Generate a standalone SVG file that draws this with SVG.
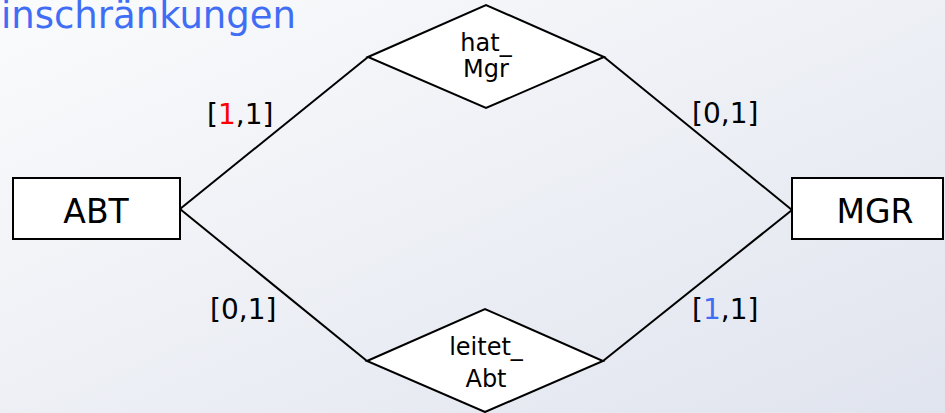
<svg xmlns="http://www.w3.org/2000/svg" width="945" height="413" viewBox="0 0 945 413">
<defs>
<linearGradient id="bg" x1="0" y1="0" x2="1" y2="1">
<stop offset="0" stop-color="#fafbfc"/>
<stop offset="1" stop-color="#e0e4ee"/>
</linearGradient>
</defs>
<style>
.shape{fill:#ffffff;stroke:#000000;stroke-width:2}
.conn{fill:none;stroke:#000000;stroke-width:2}
text{font-family:"DejaVu Sans",Verdana,sans-serif;fill:#000000}
.ent{font-size:33px;text-anchor:middle}
.rel{font-size:24px;text-anchor:middle}
.card{font-size:28px}
.title{font-size:37px;fill:#3f6ef5}
</style>
<rect width="945" height="413" fill="url(#bg)"/>
<text class="title" x="1" y="28">inschränkungen</text>
<g id="connectors">
<line class="conn" x1="180" y1="209" x2="368" y2="57"/>
<line class="conn" x1="604" y1="57" x2="792" y2="210"/>
<line class="conn" x1="180" y1="209" x2="367" y2="361"/>
<line class="conn" x1="603" y1="361" x2="792" y2="210"/>
</g>
<g id="ABT">
<rect class="shape" x="13" y="178" width="167" height="61"/>
<text class="ent" x="96" y="223">ABT</text>
</g>
<g id="MGR">
<rect class="shape" x="792" y="178" width="151" height="61"/>
<text class="ent" x="875" y="223">MGR</text>
</g>
<g id="hat_Mgr">
<polygon class="shape" points="368,57 486,5 604,57 486,108"/>
<text class="rel" x="486" y="51">hat_</text>
<text class="rel" x="486" y="77">Mgr</text>
</g>
<g id="leitet_Abt">
<polygon class="shape" points="367,361 485,309 603,361 485,412"/>
<text class="rel" x="486" y="355">leitet_</text>
<text class="rel" x="486" y="387">Abt</text>
</g>
<g id="labels">
<text class="card" x="207" y="124">[<tspan fill="#ff0000">1</tspan>,1]</text>
<text class="card" x="692" y="123">[0,1]</text>
<text class="card" x="210" y="319">[0,1]</text>
<text class="card" x="692" y="319">[<tspan fill="#3f6ef5">1</tspan>,1]</text>
</g>
</svg>
